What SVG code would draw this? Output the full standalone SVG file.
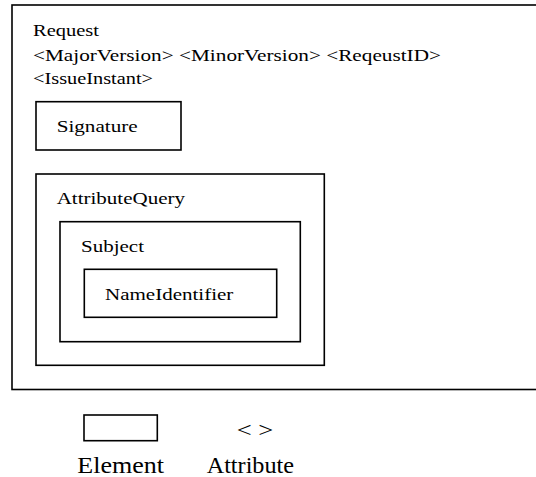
<svg xmlns="http://www.w3.org/2000/svg" width="536" height="477" viewBox="0 0 536 477">
<style>
.box{fill:none;stroke:#000;stroke-width:1.6}
.t{font-family:'Liberation Serif','Times New Roman',serif;font-size:17.5px;fill:#000}
.lg{font-family:'Liberation Serif','Times New Roman',serif;font-size:24px;fill:#000}
</style>
<rect width="536" height="477" fill="#fff"/>
<g id="request">
<rect class="box" x="12" y="5" width="530" height="384.5"/>
<text class="t" x="33" y="36" textLength="66" lengthAdjust="spacingAndGlyphs">Request</text>
<text class="t" x="33" y="60.5" textLength="408" lengthAdjust="spacingAndGlyphs">&lt;MajorVersion&gt; &lt;MinorVersion&gt; &lt;ReqeustID&gt;</text>
<text class="t" x="33" y="84" textLength="120" lengthAdjust="spacingAndGlyphs">&lt;IssueInstant&gt;</text>
</g>
<g id="signature">
<rect class="box" x="36" y="101.7" width="145" height="48.3"/>
<text class="t" x="56.7" y="131.7" textLength="81" lengthAdjust="spacingAndGlyphs">Signature</text>
</g>
<g id="attributequery">
<rect class="box" x="36" y="174" width="288.3" height="191.3"/>
<text class="t" x="56.7" y="203.5" textLength="128.3" lengthAdjust="spacingAndGlyphs">AttributeQuery</text>
</g>
<g id="subject">
<rect class="box" x="60" y="221.7" width="240.3" height="120"/>
<text class="t" x="81" y="251.7" textLength="63" lengthAdjust="spacingAndGlyphs">Subject</text>
</g>
<g id="nameidentifier">
<rect class="box" x="84.3" y="269.3" width="192.4" height="48"/>
<text class="t" x="105" y="300" textLength="128.3" lengthAdjust="spacingAndGlyphs">NameIdentifier</text>
</g>
<g id="connectors"></g>
<g id="legend-element">
<rect class="box" x="84" y="415" width="73.3" height="25.7"/>
<text class="lg" x="77.3" y="472.7" textLength="86.7" lengthAdjust="spacingAndGlyphs">Element</text>
</g>
<g id="legend-attribute">
<text class="lg" x="236.7" y="437" textLength="36.6" lengthAdjust="spacingAndGlyphs" style="font-size:20px">&lt; &gt;</text>
<text class="lg" x="206.7" y="472.7" textLength="87.3" lengthAdjust="spacingAndGlyphs">Attribute</text>
</g>
</svg>
